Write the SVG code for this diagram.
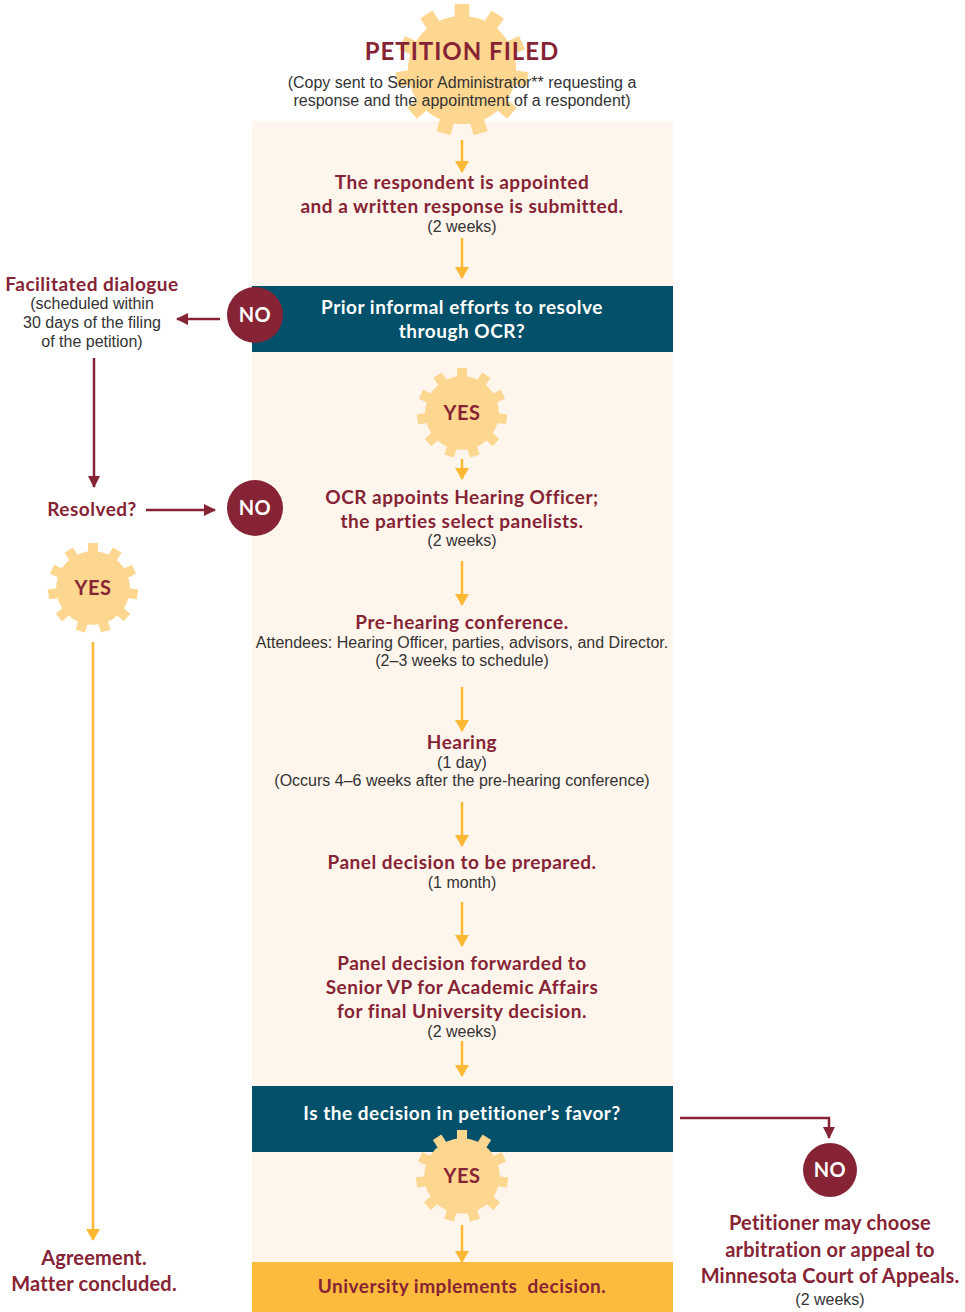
<svg xmlns="http://www.w3.org/2000/svg" xmlns:xlink="http://www.w3.org/1999/xlink" width="965" height="1312" viewBox="0 0 965 1312">
<style>
.h{font-family:Lato,"Noto Sans",sans-serif;font-weight:700;fill:#862334;text-anchor:middle;font-size:19px;letter-spacing:0.5px}
.w{font-family:Lato,"Noto Sans",sans-serif;font-weight:700;fill:#ffffff;text-anchor:middle;font-size:19px;letter-spacing:0.5px}
.s{font-family:"Liberation Sans",Arial,sans-serif;fill:#333333;text-anchor:middle;font-size:16px}
.ga{stroke:#FDB834;stroke-width:2.5;fill:none;marker-end:url(#ag)}
.ra{stroke:#862334;stroke-width:2.5;fill:none;marker-end:url(#ar)}
.no{fill:#862334}
</style>
<defs>
<marker id="ag" viewBox="0 0 12 14" refX="11" refY="7" markerWidth="12" markerHeight="14" markerUnits="userSpaceOnUse" orient="auto"><path d="M0,0 L12,7 L0,14 Z" fill="#FDB834"/></marker>
<marker id="ar" viewBox="0 0 12 12" refX="11" refY="6" markerWidth="12" markerHeight="12" markerUnits="userSpaceOnUse" orient="auto"><path d="M0,0 L12,6 L0,12 Z" fill="#862334"/></marker>
<g id="gear" fill="#FDD690">
<circle r="0.82"/>
<rect x="-0.11" y="-1" width="0.22" height="0.3"/>
<rect x="-0.11" y="-1" width="0.22" height="0.3" transform="rotate(32.727)"/>
<rect x="-0.11" y="-1" width="0.22" height="0.3" transform="rotate(65.454)"/>
<rect x="-0.11" y="-1" width="0.22" height="0.3" transform="rotate(98.181)"/>
<rect x="-0.11" y="-1" width="0.22" height="0.3" transform="rotate(130.909)"/>
<rect x="-0.11" y="-1" width="0.22" height="0.3" transform="rotate(163.636)"/>
<rect x="-0.11" y="-1" width="0.22" height="0.3" transform="rotate(196.363)"/>
<rect x="-0.11" y="-1" width="0.22" height="0.3" transform="rotate(229.09)"/>
<rect x="-0.11" y="-1" width="0.22" height="0.3" transform="rotate(261.818)"/>
<rect x="-0.11" y="-1" width="0.22" height="0.3" transform="rotate(294.545)"/>
<rect x="-0.11" y="-1" width="0.22" height="0.3" transform="rotate(327.272)"/>
</g>
</defs>
<rect width="965" height="1312" fill="#ffffff"/>
<rect id="panel" x="252" y="121" width="421" height="1191" fill="#FEF6EC"/>

<g id="petition">
<use xlink:href="#gear" href="#gear" transform="translate(462,70) scale(66)"/>
<text class="h" x="462" y="60" style="font-size:24px;letter-spacing:1px">PETITION FILED</text>
<text class="s" x="462" y="88">(Copy sent to Senior Administrator** requesting a</text>
<text class="s" x="462" y="106">response and the appointment of a respondent)</text>
</g>

<g id="respondent">
<text class="h" x="462" y="189">The respondent is appointed</text>
<text class="h" x="462" y="213">and a written response is submitted.</text>
<text class="s" x="462" y="232">(2 weeks)</text>
</g>

<g id="prior">
<rect x="252" y="286" width="421" height="66" fill="#02506A"/>
<text class="w" x="462" y="314">Prior informal efforts to resolve</text>
<text class="w" x="462" y="338">through OCR?</text>
</g>

<g id="no1">
<circle class="no" cx="255" cy="315" r="28"/>
<text class="w" x="255" y="322" style="font-size:20px">NO</text>
</g>

<g id="facilitated">
<text class="h" x="92" y="291">Facilitated dialogue</text>
<text class="s" x="92" y="309">(scheduled within</text>
<text class="s" x="92" y="328">30 days of the filing</text>
<text class="s" x="92" y="347">of the petition)</text>
</g>

<g id="resolved">
<text class="h" x="92" y="516">Resolved?</text>
</g>

<g id="no2">
<circle class="no" cx="255" cy="508" r="28"/>
<text class="w" x="255" y="515" style="font-size:20px">NO</text>
</g>

<g id="yes1">
<use xlink:href="#gear" href="#gear" transform="translate(462,413) scale(45)"/>
<text class="h" x="462" y="420" style="font-size:20px">YES</text>
</g>

<g id="yes2">
<use xlink:href="#gear" href="#gear" transform="translate(93,588) scale(45)"/>
<text class="h" x="93" y="595" style="font-size:20px">YES</text>
</g>

<g id="ocr">
<text class="h" x="462" y="504">OCR appoints Hearing Officer;</text>
<text class="h" x="462" y="528">the parties select panelists.</text>
<text class="s" x="462" y="546">(2 weeks)</text>
</g>

<g id="prehearing">
<text class="h" x="462" y="629">Pre-hearing conference.</text>
<text class="s" x="462" y="648">Attendees: Hearing Officer, parties, advisors, and Director.</text>
<text class="s" x="462" y="666">(2–3 weeks to schedule)</text>
</g>

<g id="hearing">
<text class="h" x="462" y="749">Hearing</text>
<text class="s" x="462" y="768">(1 day)</text>
<text class="s" x="462" y="786">(Occurs 4–6 weeks after the pre-hearing conference)</text>
</g>

<g id="panel-decision">
<text class="h" x="462" y="869">Panel decision to be prepared.</text>
<text class="s" x="462" y="888">(1 month)</text>
</g>

<g id="forwarded">
<text class="h" x="462" y="970">Panel decision forwarded to</text>
<text class="h" x="462" y="994">Senior VP for Academic Affairs</text>
<text class="h" x="462" y="1018">for final University decision.</text>
<text class="s" x="462" y="1037">(2 weeks)</text>
</g>

<g id="favor">
<rect x="252" y="1086" width="421" height="66" fill="#02506A"/>
<text class="w" x="462" y="1120">Is the decision in petitioner’s favor?</text>
</g>

<g id="yes3">
<use xlink:href="#gear" href="#gear" transform="translate(462,1176) scale(46)"/>
<text class="h" x="462" y="1183" style="font-size:20px">YES</text>
</g>

<g id="implements">
<rect x="252" y="1262" width="421" height="50" fill="#FDBB3D"/>
<text class="h" x="462" y="1293" xml:space="preserve">University implements  decision.</text>
</g>

<g id="no3">
<circle class="no" cx="830" cy="1170" r="27"/>
<text class="w" x="830" y="1177" style="font-size:20px">NO</text>
</g>

<g id="appeal">
<text class="h" x="830" y="1230" style="font-size:20px;letter-spacing:0.2px">Petitioner may choose</text>
<text class="h" x="830" y="1257" style="font-size:20px;letter-spacing:0.2px">arbitration or appeal to</text>
<text class="h" x="830" y="1283" style="font-size:20px;letter-spacing:0.2px">Minnesota Court of Appeals.</text>
<text class="s" x="830" y="1305">(2 weeks)</text>
</g>

<g id="agreement">
<text class="h" x="94" y="1265" style="font-size:20px;letter-spacing:0.2px">Agreement.</text>
<text class="h" x="94" y="1291" style="font-size:20px;letter-spacing:0.2px">Matter concluded.</text>
</g>

<g id="connectors">
<line class="ga" x1="462" y1="140" x2="462" y2="172"/>
<line class="ga" x1="462" y1="238" x2="462" y2="278"/>
<line class="ga" x1="462" y1="459" x2="462" y2="479"/>
<line class="ga" x1="462" y1="561" x2="462" y2="605"/>
<line class="ga" x1="462" y1="687" x2="462" y2="731"/>
<line class="ga" x1="462" y1="802" x2="462" y2="846"/>
<line class="ga" x1="462" y1="902" x2="462" y2="946"/>
<line class="ga" x1="462" y1="1041" x2="462" y2="1076"/>
<line class="ga" x1="462" y1="1225" x2="462" y2="1262"/>
<line class="ga" x1="93" y1="642" x2="93" y2="1240"/>
<line class="ra" x1="220" y1="319" x2="177" y2="319"/>
<line class="ra" x1="94" y1="358" x2="94" y2="487"/>
<line class="ra" x1="146" y1="510" x2="215" y2="510"/>
<polyline class="ra" points="680,1118 829,1118 829,1138"/>
</g>
</svg>
